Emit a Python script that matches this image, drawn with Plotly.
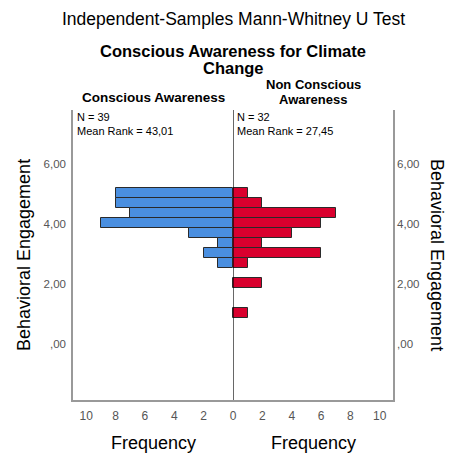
import plotly.graph_objects as go

# ---- data ----
bin_centers = [5.03, 4.69, 4.36, 4.03, 3.69, 3.36, 3.03, 2.69, 2.03, 1.03]
conscious_freq = [8, 8, 7, 9, 3, 1, 2, 1, 0, 0]
nonconscious_freq = [1, 2, 7, 6, 4, 2, 6, 1, 2, 1]
bin_width = 1 / 3
y_tickvals = [0, 2, 4, 6]
y_ticktext = [",00", "2,00", "4,00", "6,00"]
x_left_ticks = [0, 2, 4, 6, 8, 10]
x_right_ticks = [2, 4, 6, 8, 10]
group_labels = ["Conscious Awareness", "Non Conscious<br>Awareness"]
stats_left = "N = 39<br>Mean Rank = 43,01"
stats_right = "N = 32<br>Mean Rank = 27,45"

W, H = 454, 453
L, R, T, B = 73, 61, 110, 53
FONT = "Liberation Sans, Arial, sans-serif"


def py(ypx):
    return (H - B - ypx) / (H - T - B)


def px(xpx):
    return (xpx - L) / (W - L - R)


fig = go.Figure()
fig.add_trace(go.Bar(
    y=bin_centers, x=conscious_freq, orientation="h", width=bin_width,
    marker=dict(color="#4A8FE0", line=dict(color="#2a2a2a", width=1)),
    xaxis="x", yaxis="y", showlegend=False))
fig.add_trace(go.Bar(
    y=bin_centers, x=nonconscious_freq, orientation="h", width=bin_width,
    marker=dict(color="#D9002E", line=dict(color="#2a2a2a", width=1)),
    xaxis="x2", yaxis="y2", showlegend=False))

xr = 10.9
yr = [-1.87, 7.8]
tickfont = dict(family=FONT, size=12, color="#555555")
ytickfont = dict(family=FONT, size=11.5, color="#555555")

fig.update_layout(
    width=W, height=H,
    margin=dict(l=L, r=R, t=T, b=B),
    paper_bgcolor="white", plot_bgcolor="white",
    bargap=0,
    xaxis=dict(domain=[0, 0.5], range=[xr, 0], tickvals=x_left_ticks,
               showline=True, linecolor="#999999", linewidth=1.5,
               showgrid=False, zeroline=False, ticks="outside",
               ticklen=4, tickcolor="rgba(0,0,0,0)", tickfont=tickfont),
    xaxis2=dict(domain=[0.5, 1], range=[0, xr], tickvals=x_right_ticks,
                showline=True, linecolor="#999999", linewidth=1.5,
                showgrid=False, zeroline=False, ticks="outside",
                ticklen=4, tickcolor="rgba(0,0,0,0)", tickfont=tickfont),
    yaxis=dict(anchor="x", range=yr, tickvals=y_tickvals, ticktext=y_ticktext,
               showline=True, linecolor="#999999", linewidth=1.5,
               showgrid=False, zeroline=False, ticks="outside", ticklen=3,
               tickcolor="rgba(0,0,0,0)", tickfont=ytickfont),
    yaxis2=dict(anchor="x2", side="right", range=yr, tickvals=y_tickvals,
                ticktext=y_ticktext, showline=True, linecolor="#999999",
                linewidth=1.5, showgrid=False, zeroline=False,
                tickfont=ytickfont),
    shapes=[dict(type="line", xref="x2", yref="paper", x0=0, x1=0, y0=0, y1=1,
                 line=dict(color="black", width=1.2))],
)

ann = []


def add(text, xpix, ypix, size, bold=False, xanchor="center", angle=0, color="black"):
    ann.append(dict(text=f"<b>{text}</b>" if bold else text, x=px(xpix), y=py(ypix),
                    xref="paper", yref="paper", xanchor=xanchor, yanchor="middle",
                    showarrow=False, textangle=angle, align="left" if xanchor == "left" else "center",
                    font=dict(family=FONT, size=size, color=color)))


add("Independent-Samples Mann-Whitney U Test", 233, 19, 17.5)
add("Conscious Awareness for Climate", 233, 51, 16.5, bold=True)
add("Change", 233, 68, 16.5, bold=True)
add(group_labels[0], 153, 98, 13.5, bold=True)
add("Non Conscious", 313, 84, 13, bold=True)
add("Awareness", 313, 99, 13, bold=True)
add(stats_left, 75, 124, 11, xanchor="left")
add(stats_right, 235, 124, 11, xanchor="left")
add("Behavioral Engagement", 24, 255, 18, angle=-90)
add("Behavioral Engagement", 437, 255, 18, angle=90)
add("Frequency", 153, 443, 18)
add("Frequency", 313, 443, 18)
fig.update_layout(annotations=ann)

fig.write_html("out.html", config={"displayModeBar": False},
               post_script="document.body.style.margin='0';document.body.style.overflow='hidden';")
